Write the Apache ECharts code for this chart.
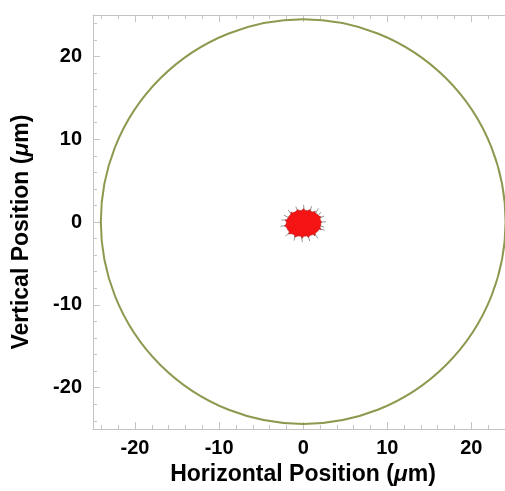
<!DOCTYPE html>
<html>
<head>
<meta charset="utf-8">
<title>Spot diagram</title>
<script src="https://cdn.jsdelivr.net/npm/echarts@6/dist/echarts.min.js"></script>
<style>
  html, body { margin: 0; padding: 0; background: #ffffff; }
  #chart { width: 505px; height: 491px; }
</style>
</head>
<body>
<div id="chart"></div>
<script>
// Axis extents (µm)
const xRange = [-25, 24];
const yRange = [-25, 25];

// Tick positions (µm)
const majorTicks = [-20, -10, 0, 10, 20];
const minorTicks = [-24, -22, -18, -16, -14, -12, -8, -6, -4, -2,
                    2, 4, 6, 8, 12, 14, 16, 18, 22, 24];

// Aperture circle: centre x, centre y, radius (µm)
const apertureCircle = [[0, 0.05, 24.25]];

// Body of the ray spot (µm), traced counter-clockwise
const spotOutline = [
  [2.1, -0.15], [2.2, 0.07], [2.05, 0.22], [2.0, 0.48], [2.15, 0.6], [1.85, 0.75],
  [1.65, 0.96], [1.4, 1.12], [1.45, 1.32], [1.15, 1.22], [0.85, 1.32], [0.85, 1.52],
  [0.52, 1.38], [0.2, 1.43], [0.05, 1.64], [-0.15, 1.43], [-0.52, 1.38], [-0.62, 1.56],
  [-0.9, 1.27], [-1.25, 1.12], [-1.45, 1.22], [-1.5, 0.9], [-1.75, 0.65], [-1.9, 0.33],
  [-2.15, 0.26], [-2.0, 0.02], [-2.05, -0.3], [-2.25, -0.46], [-2.0, -0.62], [-1.85, -0.93],
  [-1.65, -1.2], [-1.75, -1.46], [-1.4, -1.41], [-1.03, -1.57], [-0.98, -1.83], [-0.62, -1.67],
  [-0.26, -1.72], [-0.15, -1.99], [0.1, -1.72], [0.46, -1.67], [0.62, -1.88], [0.82, -1.62],
  [1.18, -1.51], [1.4, -1.67], [1.44, -1.36], [1.7, -1.15], [1.9, -0.88], [2.15, -0.9],
  [2.0, -0.62], [2.1, -0.36]
];

// Stray rays poking out of the spot: [x0, y0, x1, y1] (µm)
const spotRays = [
  [1.95, -0.05, 2.7, 0.05], [1.95, 0.52, 2.5, 0.72], [1.45, 1.0, 1.8, 1.65],
  [0.82, 1.2, 0.98, 1.92], [0.1, 1.3, 0.05, 2.08], [-0.62, 1.25, -0.88, 1.87],
  [-1.34, 0.93, -1.8, 1.45], [-1.9, 0.21, -2.6, 0.26], [-1.95, -0.41, -2.7, -0.52],
  [-1.6, -1.2, -2.1, -1.72], [-0.98, -1.51, -1.08, -2.24], [-0.2, -1.61, -0.1, -2.44],
  [0.56, -1.56, 0.77, -2.29], [1.34, -1.36, 1.75, -1.98], [1.85, -0.83, 2.55, -0.98],
  [2.0, -0.46, 2.5, -0.62], [-1.8, 0.57, -2.3, 0.83], [1.8, 0.8, 2.1, 1.2]
];

const xTitle = 'Horizontal Position ({mu|μ}m)';
const yTitle = 'Vertical Position ({mu|μ}m)';

const FONT = '"Liberation Sans", Arial, Helvetica, sans-serif';
const FRAME = '#c4c4c4';

function titleStyle(padding) {
  return {
    color: '#000', fontFamily: FONT, fontWeight: 'bold', fontSize: 23, padding: padding,
    rich: { mu: { fontStyle: 'italic', fontWeight: 'bold', fontFamily: FONT, fontSize: 23, color: '#000' } }
  };
}
const labelStyle = { color: '#000', fontFamily: FONT, fontWeight: 'bold', fontSize: 20 };

// Builds one axis layer: framing line, major or minor ticks, optional labels
function axisLayer(range, position, ticks, len, withLine, withLabels, margin, extra) {
  return Object.assign({
    type: 'value',
    min: range[0],
    max: range[1],
    position: position,
    axisLine: { show: withLine, onZero: false, lineStyle: { color: FRAME, width: 1 } },
    axisTick: { show: true, inside: true, length: len, customValues: ticks,
                lineStyle: { color: FRAME, width: 1 } },
    axisLabel: withLabels
      ? Object.assign({ show: true, customValues: majorTicks, margin: margin }, labelStyle)
      : { show: false },
    splitLine: { show: false }
  }, extra || {});
}

const chart = echarts.init(document.getElementById('chart'), null, { renderer: 'canvas' });

chart.setOption({
  backgroundColor: '#ffffff',
  animation: false,
  grid: { left: 93, top: 15, width: 413, height: 419, containLabel: false },
  xAxis: [
    axisLayer(xRange, 'bottom', majorTicks, 7, true, true, 9, {
      name: xTitle, nameLocation: 'middle', nameGap: 32, nameTextStyle: titleStyle([0, 0, 0, 8])
    }),
    axisLayer(xRange, 'bottom', minorTicks, 4, false, false, 0),
    axisLayer(xRange, 'top', majorTicks, 7, true, false, 0),
    axisLayer(xRange, 'top', minorTicks, 4, false, false, 0)
  ],
  yAxis: [
    axisLayer(yRange, 'left', majorTicks, 7, true, true, 11, {
      name: yTitle, nameLocation: 'middle', nameGap: 60, nameTextStyle: titleStyle([0, 20, 0, 0])
    }),
    axisLayer(yRange, 'left', minorTicks, 4, false, false, 0)
  ],
  series: [
    {
      // aperture circle
      type: 'custom',
      data: apertureCircle,
      silent: true,
      renderItem: function (params, api) {
        const c = api.coord([api.value(0), api.value(1)]);
        const s = api.size([api.value(2), api.value(2)]);
        return {
          type: 'circle',
          shape: { cx: c[0], cy: c[1], r: (s[0] + s[1]) / 2 },
          style: { fill: 'none', stroke: '#8c9a50', lineWidth: 2 }
        };
      }
    },
    {
      // stray rays, drawn beneath the spot body
      type: 'custom',
      data: spotRays,
      silent: true,
      renderItem: function (params, api) {
        const a = api.coord([api.value(0), api.value(1)]);
        const b = api.coord([api.value(2), api.value(3)]);
        return {
          type: 'line',
          shape: { x1: a[0], y1: a[1], x2: b[0], y2: b[1] },
          style: { stroke: '#7a7a7a', lineWidth: 0.8 }
        };
      }
    },
    {
      // ray spot body
      type: 'custom',
      data: spotOutline,
      silent: true,
      renderItem: function (params, api) {
        if (params.dataIndex !== 0) return null;
        const pts = spotOutline.map(function (p) { return api.coord(p); });
        return {
          type: 'polygon',
          shape: { points: pts },
          style: { fill: '#f41414', stroke: '#a03030', lineWidth: 0.5 }
        };
      }
    }
  ]
});
</script>
</body>
</html>
